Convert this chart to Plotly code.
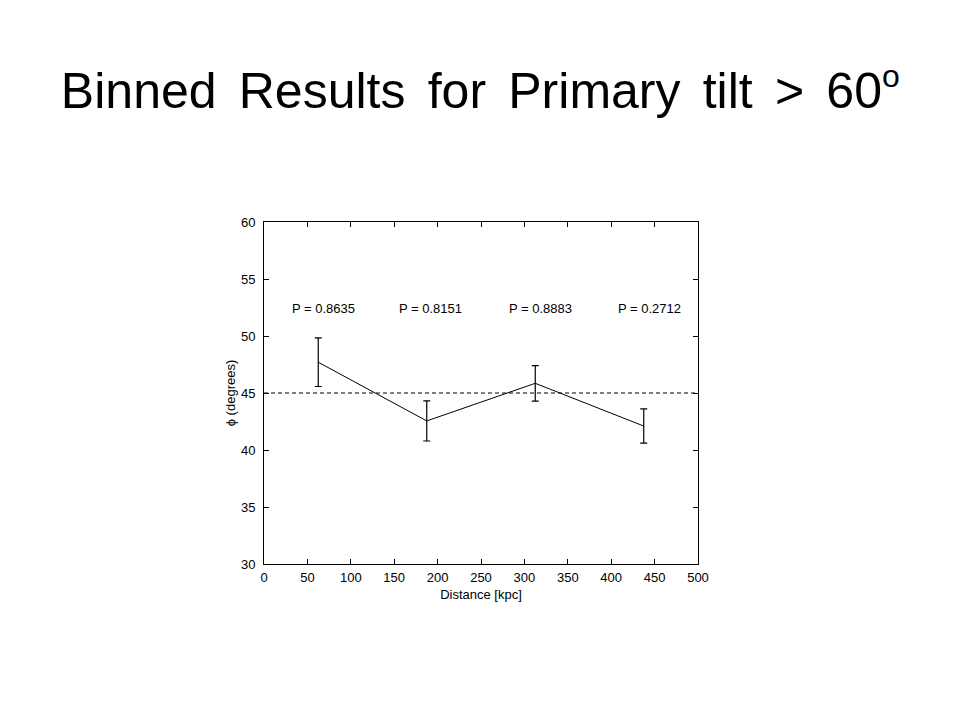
import plotly.graph_objects as go

distance = [62.5, 187.5, 312.5, 437.5]
phi = [47.7, 42.55, 45.85, 42.1]
phi_err = [2.13, 1.76, 1.56, 1.5]
p_labels = ["P = 0.8635", "P = 0.8151", "P = 0.8883", "P = 0.2712"]
p_label_x = [68, 192, 318, 444]
p_label_y = 52.4
ref_x = [0, 500]
ref_y = [45, 45]
x_ticks = [0, 50, 100, 150, 200, 250, 300, 350, 400, 450, 500]
y_ticks = [30, 35, 40, 45, 50, 55, 60]

font_family = "Liberation Sans, Arial, sans-serif"
sp = " \u2006"
title_text = sp.join(["Binned", "Results", "for", "Primary", "tilt", ">", "60"]) + \
    '<sup><span style="font-size:32px">o</span></sup>'

fig = go.Figure()
fig.add_trace(go.Scatter(
    x=ref_x, y=ref_y, mode="lines",
    line=dict(color="black", width=1, dash="4px,3px"),
    showlegend=False, hoverinfo="skip"))
fig.add_trace(go.Scatter(
    x=distance, y=phi, mode="lines",
    line=dict(color="black", width=1),
    error_y=dict(type="data", array=phi_err, visible=True,
                 color="black", thickness=1.2, width=3.5),
    showlegend=False))
for xv, t in zip(p_label_x, p_labels):
    fig.add_annotation(x=xv, y=p_label_y, text=t, showarrow=False,
                       font=dict(family=font_family, size=13, color="black"),
                       xanchor="center", yanchor="middle")

axis_common = dict(showline=True, linecolor="black", linewidth=1, mirror="ticks",
                   ticks="inside", ticklen=5, tickcolor="black", tickwidth=1,
                   showgrid=False, zeroline=False,
                   tickfont=dict(family=font_family, size=13, color="black"))

fig.update_xaxes(range=[0, 500], tickvals=x_ticks, ticklabelstandoff=1,
                 title=dict(text="Distance [kpc]", standoff=6,
                            font=dict(family=font_family, size=13, color="black")),
                 **axis_common)
fig.update_yaxes(range=[30, 60], tickvals=y_ticks, ticklabelstandoff=5,
                 title=dict(text="ϕ (degrees)", standoff=2,
                            font=dict(family=font_family, size=13, color="black")),
                 **axis_common)

# page body has an 8px default margin; shift margins to compensate
fig.update_layout(
    width=960, height=720,
    paper_bgcolor="white", plot_bgcolor="white",
    margin=dict(l=256, r=270, t=214, b=164),
    title=dict(text=title_text,
               x=0.492, xanchor="center", y=0.886, yanchor="middle",
               yref="container",
               font=dict(family=font_family, size=50, color="black")),
)

fig.write_html("out.html")
